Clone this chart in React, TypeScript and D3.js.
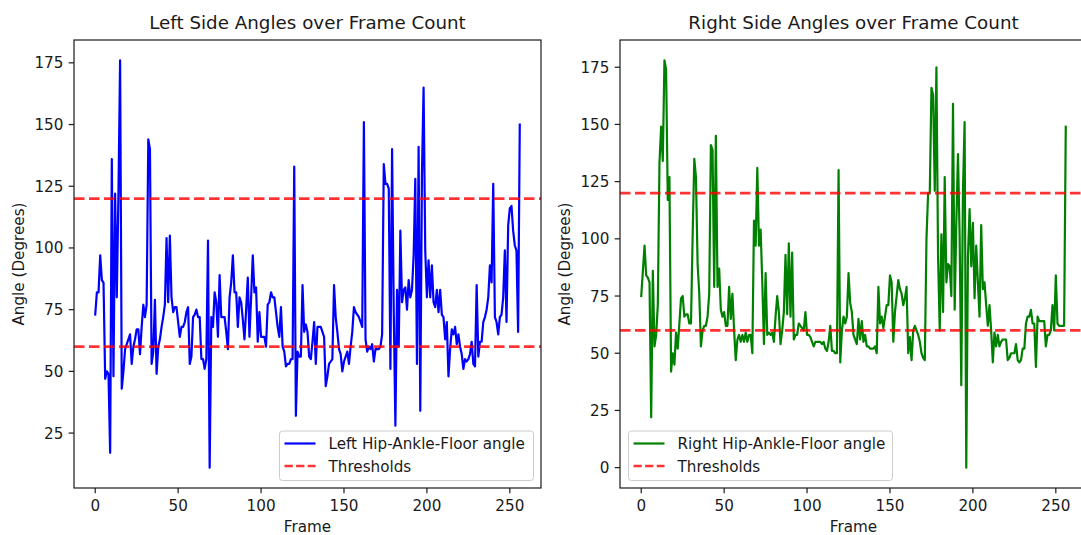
import React from 'react';
import * as d3 from 'd3';

const leftAngles: number[] = [
  73, 82, 82, 97, 87, 86, 47, 50, 49, 17, 136, 48, 122, 80, 122, 176, 43, 50, 59, 61,
  63, 65, 53, 60, 63, 67, 67, 57, 68, 77, 72, 77, 144, 140, 53, 58, 79, 49, 60, 63,
  68, 72, 77, 104, 78, 105, 80, 74, 76, 76, 70, 64, 68, 68, 70, 74, 76, 53, 56, 72,
  73, 75, 72, 72, 55, 55, 51, 55, 103, 11, 72, 68, 82, 78, 64, 89, 72, 72, 72, 66,
  59, 80, 86, 97, 82, 82, 68, 80, 78, 71, 63, 75, 88, 64, 80, 97, 82, 84, 62, 74,
  64, 64, 64, 60, 77, 78, 82, 80, 80, 74, 68, 64, 76, 60, 58, 52, 53, 53, 55, 55,
  133, 32, 58, 56, 56, 85, 66, 69, 66, 56, 55, 62, 70, 53, 68, 68, 68, 66, 64, 44,
  48, 53, 54, 55, 85, 72, 66, 59, 57, 50, 54, 56, 58, 53, 60, 66, 76, 74, 73, 72,
  70, 68, 151, 63, 58, 60, 59, 61, 54, 59, 59, 59, 60, 65, 134, 126, 126, 124, 51, 140,
  75, 28, 83, 60, 107, 78, 83, 84, 75, 87, 80, 83, 97, 128, 53, 141, 34, 129, 165, 99,
  80, 95, 80, 93, 78, 76, 83, 74, 83, 73, 72, 63, 70, 48, 59, 67, 65, 68, 61, 65,
  60, 57, 51, 55, 54, 55, 57, 62, 53, 52, 85, 56, 62, 62, 70, 72, 75, 80, 93, 86,
  126, 72, 70, 65, 72, 73, 80, 99, 70, 109, 116, 117, 107, 101, 99, 66, 150,
];

const rightAngles: number[] = [
  75, 86, 97, 84, 83, 81, 22, 86, 53, 58, 71, 133, 149, 134, 178, 174, 117, 127, 42, 50,
  45, 59, 52, 63, 74, 75, 66, 67, 67, 63, 63, 101, 135, 127, 89, 76, 53, 60, 62, 62,
  66, 76, 141, 139, 79, 145, 79, 87, 69, 66, 68, 62, 62, 79, 65, 76, 60, 47, 56, 58,
  55, 58, 55, 59, 55, 58, 58, 50, 108, 97, 131, 97, 104, 81, 54, 85, 58, 59, 58, 59,
  55, 66, 75, 68, 54, 60, 68, 93, 67, 98, 66, 94, 56, 58, 58, 63, 62, 61, 60, 68,
  58, 58, 57, 55, 53, 55, 55, 55, 55, 54, 55, 52, 51, 55, 62, 51, 51, 50, 50, 130,
  46, 60, 66, 63, 66, 85, 72, 68, 58, 56, 54, 65, 56, 64, 55, 58, 53, 53, 52, 52,
  52, 53, 50, 79, 63, 66, 61, 66, 71, 71, 84, 81, 55, 68, 75, 82, 78, 76, 71, 74,
  79, 50, 57, 47, 60, 62, 60, 58, 55, 50, 48, 47, 100, 120, 120, 166, 163, 121, 175, 92,
  60, 102, 68, 127, 81, 89, 88, 75, 159, 69, 107, 137, 101, 36, 121, 151, 0, 92, 113, 88,
  107, 74, 97, 81, 66, 106, 78, 81, 71, 62, 71, 60, 46, 59, 53, 58, 53, 55, 56, 56,
  56, 47, 48, 50, 50, 50, 54, 47, 46, 47, 52, 52, 63, 66, 66, 69, 63, 63, 44, 66,
  64, 64, 64, 64, 53, 58, 58, 60, 71, 60, 84, 63, 62, 62, 62, 62, 149,
];

const thresholds: number[] = [60, 120];
const xTicks: number[] = [0, 50, 100, 150, 200, 250];
const leftYTicks: number[] = [25, 50, 75, 100, 125, 150, 175];
const rightYTicks: number[] = [0, 25, 50, 75, 100, 125, 150, 175];

const FONT = '"DejaVu Sans", Verdana, sans-serif';
const FS = 15.2;
const TITLE_FS = 18.3;
const TEXT_COLOR = '#1a1a1a';

type PanelProps = {
  left: number;
  right: number;
  top: number;
  bottom: number;
  data: number[];
  color: string;
  title: string;
  seriesLabel: string;
  yTicks: number[];
  legendLeft: number;
  legendWidth: number;
  id: string;
};

function Panel(p: PanelProps) {
  const n = p.data.length - 1;
  const xPad = n * 0.05;
  const x = d3.scaleLinear().domain([-xPad, n + xPad]).range([p.left, p.right]);
  const ymin = d3.min(p.data) as number;
  const ymax = d3.max(p.data) as number;
  const yPad = (ymax - ymin) * 0.05;
  const y = d3.scaleLinear().domain([ymin - yPad, ymax + yPad]).range([p.bottom, p.top]);
  const line = d3
    .line<number>()
    .x((_, i) => x(i))
    .y((d) => y(d));
  const path = line(p.data) || '';
  const cx = (p.left + p.right) / 2;
  const cy = (p.top + p.bottom) / 2;
  const lgTop = p.bottom - 57;
  const lgH = 49.5;
  const tickLen = 5.3;
  return (
    <g>
      <defs>
        <clipPath id={`clip-${p.id}`}>
          <rect x={p.left} y={p.top} width={p.right - p.left} height={p.bottom - p.top} />
        </clipPath>
      </defs>
      <g clipPath={`url(#clip-${p.id})`}>
        <path d={path} fill="none" stroke={p.color} strokeWidth={2.2} strokeLinejoin="round" strokeLinecap="square" />
        {thresholds.map((t) => (
          <line
            key={t}
            x1={p.left}
            x2={p.right}
            y1={y(t)}
            y2={y(t)}
            stroke="#ff0000"
            strokeOpacity={0.8}
            strokeWidth={2.7}
            strokeDasharray="10.5 4.5"
          />
        ))}
      </g>
      <rect x={p.left} y={p.top} width={p.right - p.left} height={p.bottom - p.top} fill="none" stroke="#1a1a1a" strokeWidth={1.2} />
      {xTicks.map((t) => (
        <g key={`x${t}`}>
          <line x1={x(t)} x2={x(t)} y1={p.bottom} y2={p.bottom + tickLen} stroke="#1a1a1a" strokeWidth={1.2} />
          <text x={x(t)} y={p.bottom + 22.5} textAnchor="middle" fontSize={FS} fontFamily={FONT} fill={TEXT_COLOR}>
            {t}
          </text>
        </g>
      ))}
      {p.yTicks.map((t) => (
        <g key={`y${t}`}>
          <line x1={p.left - tickLen} x2={p.left} y1={y(t)} y2={y(t)} stroke="#1a1a1a" strokeWidth={1.2} />
          <text x={p.left - 10.6} y={y(t) + 5.5} textAnchor="end" fontSize={FS} fontFamily={FONT} fill={TEXT_COLOR}>
            {t}
          </text>
        </g>
      ))}
      <text x={cx} y={p.top - 11} textAnchor="middle" fontSize={TITLE_FS} fontFamily={FONT} fill={TEXT_COLOR}>
        {p.title}
      </text>
      <text x={cx} y={p.bottom + 43.5} textAnchor="middle" fontSize={FS} fontFamily={FONT} fill={TEXT_COLOR}>
        Frame
      </text>
      <text
        transform={`translate(${p.left - 50.5},${cy}) rotate(-90)`}
        textAnchor="middle"
        fontSize={FS}
        fontFamily={FONT}
        fill={TEXT_COLOR}
      >
        Angle (Degrees)
      </text>
      <rect
        x={p.legendLeft}
        y={lgTop}
        width={p.legendWidth}
        height={lgH}
        rx={3}
        fill="#ffffff"
        fillOpacity={0.8}
        stroke="#cccccc"
        strokeWidth={1}
      />
      <line x1={p.legendLeft + 5} x2={p.legendLeft + 36} y1={lgTop + 12.5} y2={lgTop + 12.5} stroke={p.color} strokeWidth={2.2} />
      <text x={p.legendLeft + 49} y={lgTop + 18} fontSize={FS} fontFamily={FONT} fill={TEXT_COLOR}>
        {p.seriesLabel}
      </text>
      <line
        x1={p.legendLeft + 5}
        x2={p.legendLeft + 36}
        y1={lgTop + 35}
        y2={lgTop + 35}
        stroke="#ff0000"
        strokeOpacity={0.8}
        strokeWidth={2.7}
        strokeDasharray="8.3 3.3"
      />
      <text x={p.legendLeft + 49} y={lgTop + 40.5} fontSize={FS} fontFamily={FONT} fill={TEXT_COLOR}>
        Thresholds
      </text>
    </g>
  );
}

export default function App() {
  return (
    <svg
      width={1081}
      height={535}
      viewBox="0 0 1081 535"
      style={{ position: 'absolute', left: 0, top: 0, background: '#ffffff' }}
    >
      <rect x={0} y={0} width={1081} height={535} fill="#ffffff" />
      <Panel
        id="left"
        left={74}
        right={541}
        top={40}
        bottom={488}
        data={leftAngles}
        color="#0000ff"
        title="Left Side Angles over Frame Count"
        seriesLabel="Left Hip-Ankle-Floor angle"
        yTicks={leftYTicks}
        legendLeft={279.5}
        legendWidth={254}
      />
      <Panel
        id="right"
        left={620}
        right={1087}
        top={40}
        bottom={488}
        data={rightAngles}
        color="#008000"
        title="Right Side Angles over Frame Count"
        seriesLabel="Right Hip-Ankle-Floor angle"
        yTicks={rightYTicks}
        legendLeft={628.5}
        legendWidth={264}
      />
    </svg>
  );
}
